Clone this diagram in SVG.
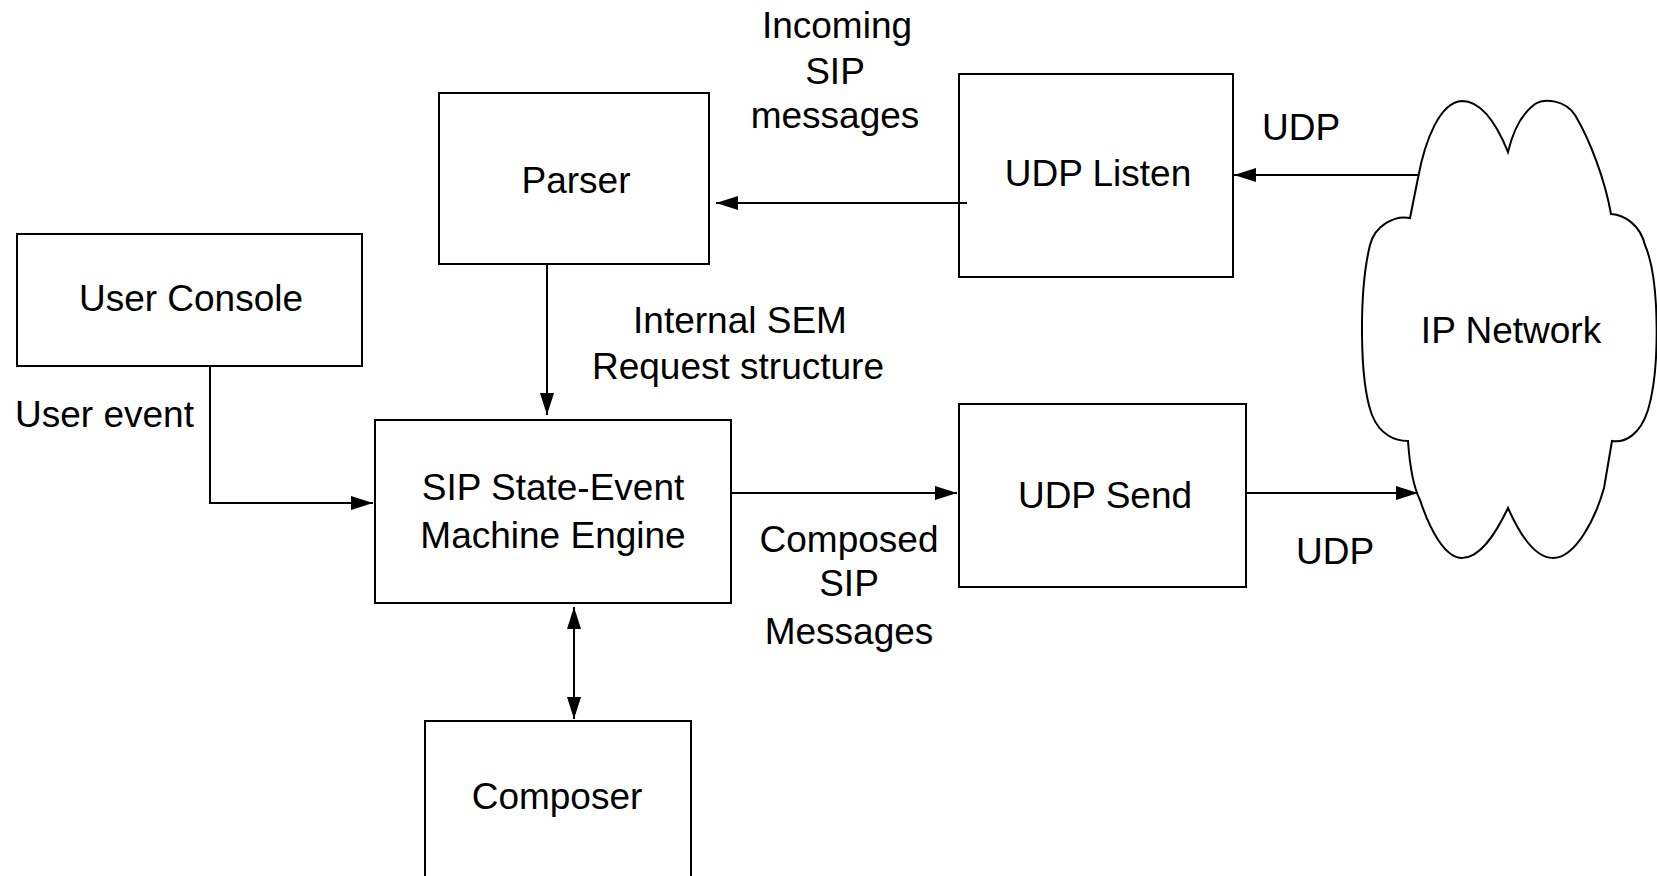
<svg xmlns="http://www.w3.org/2000/svg" width="1657" height="876" viewBox="0 0 1657 876">
<style>
.box{fill:#fff;stroke:#000;stroke-width:2}
.t{font-family:"Liberation Sans",Arial,sans-serif;font-size:37px;fill:#000;text-anchor:middle}
.l{font-family:"Liberation Sans",Arial,sans-serif;font-size:37px;fill:#000;text-anchor:middle}
.c{fill:none;stroke:#000;stroke-width:2}
</style>
<defs>
<marker id="ah" markerUnits="userSpaceOnUse" markerWidth="24" markerHeight="16" refX="22" refY="8" orient="auto-start-reverse">
<path d="M0,1 L22,8 L0,15 z" fill="#000"/>
</marker>
</defs>
<rect width="1657" height="876" fill="#fff"/>
<g id="parser"><rect class="box" x="439" y="93" width="270" height="171"/><text class="t" x="576" y="193">Parser</text></g>
<g id="user-console"><rect class="box" x="17" y="234" width="345" height="132"/><text class="t" x="191" y="311">User Console</text></g>
<g id="udp-listen"><rect class="box" x="959" y="74" width="274" height="203"/><text class="t" x="1098" y="186">UDP Listen</text></g>
<g id="sem"><rect class="box" x="375" y="420" width="356" height="183"/><text class="t" x="553" y="500">SIP State-Event</text><text class="t" x="553" y="548">Machine Engine</text></g>
<g id="udp-send"><rect class="box" x="959" y="404" width="287" height="183"/><text class="t" x="1105" y="508">UDP Send</text></g>
<g id="composer"><rect class="box" x="425" y="721" width="266" height="170"/><text class="t" x="557" y="809">Composer</text></g>
<g id="ip-network"><path class="box" d="M1508,152 C1495,120 1480,101 1462,101 C1440,102 1425,140 1418,178 L1410,218 C1395,215 1375,225 1370,245 C1359,290 1359,380 1372,415 C1380,435 1395,441 1408,441 C1410,470 1415,490 1420,500 C1430,530 1445,558 1462,558 C1480,558 1495,535 1508,508 C1520,535 1535,558 1553,558 C1575,558 1595,520 1604,488 L1612,441 C1625,443 1640,435 1648,410 C1660,370 1660,280 1645,245 C1640,225 1625,215 1611,214 C1605,180 1590,140 1575,115 C1565,100 1545,98 1535,104 C1520,115 1512,135 1508,152 Z"/><text class="t" x="1511" y="343">IP Network</text></g>
<g id="connectors">
<line class="c" x1="967" y1="203" x2="716" y2="203" marker-end="url(#ah)"/>
<line class="c" x1="1418" y1="175" x2="1234" y2="175" marker-end="url(#ah)"/>
<line class="c" x1="547" y1="264" x2="547" y2="415" marker-end="url(#ah)"/>
<polyline class="c" points="210,366 210,503 373,503" marker-end="url(#ah)"/>
<line class="c" x1="731" y1="493" x2="957" y2="493" marker-end="url(#ah)"/>
<line class="c" x1="1246" y1="493" x2="1418" y2="493" marker-end="url(#ah)"/>
<line class="c" x1="574" y1="607" x2="574" y2="719" marker-start="url(#ah)" marker-end="url(#ah)"/>
</g>
<g id="labels">
<text class="l" x="837" y="38">Incoming</text>
<text class="l" x="835" y="84">SIP</text>
<text class="l" x="835" y="128">messages</text>
<text class="l" x="1301" y="140">UDP</text>
<text class="l" x="740" y="333">Internal SEM</text>
<text class="l" x="738" y="379">Request structure</text>
<text class="l" x="15" y="427" style="text-anchor:start">User event</text>
<text class="l" x="849" y="552">Composed</text>
<text class="l" x="849" y="596">SIP</text>
<text class="l" x="849" y="644">Messages</text>
<text class="l" x="1335" y="564">UDP</text>
</g>
</svg>
